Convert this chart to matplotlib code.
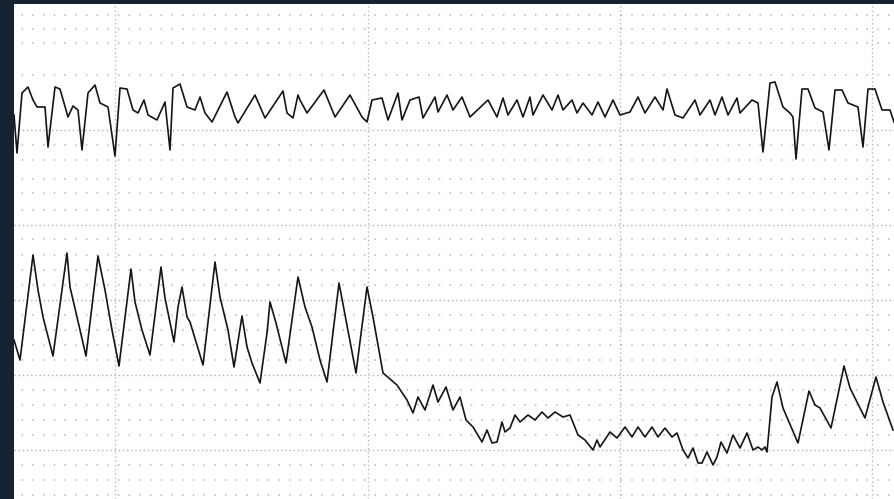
import matplotlib.pyplot as plt

# trace waypoints (x, y in strip pixels, y grows downward)
top_x = [14, 17, 22, 28, 33, 37, 45, 48, 55, 60, 68, 73, 78, 82, 88, 95, 100, 108, 115,
         120, 127, 133, 138, 144, 148, 157, 165, 170, 173, 180, 187, 195, 200, 205, 212,
         227, 235, 238, 255, 265, 283, 287, 293, 298,
         300, 307, 324, 335, 350, 362, 367, 372, 382, 388, 398, 402, 410, 419, 423, 435, 438,
         447, 453, 462, 470, 488, 497, 503, 508, 517, 523, 530, 533, 543, 552, 558, 563, 572,
         577, 583, 592, 598,
         605, 613, 620, 630, 638, 645, 655, 663, 667, 675, 683, 695, 700, 710, 715, 722, 728,
         737, 740, 752, 758, 763, 770, 775, 783, 790, 793, 796, 802, 808, 815, 823, 829,
         835, 842, 848, 858, 863, 868, 875, 882, 890, 894]
top_y = [115, 153, 93, 87, 100, 107, 107, 147, 87, 89, 117, 106, 110, 150, 93, 85, 103, 107, 156,
         88, 89, 110, 113, 100, 115, 120, 102, 150, 88, 84, 107, 110, 97, 113, 122,
         92, 117, 123, 95, 118, 91, 113, 118, 95,
         100, 113, 90, 117, 95, 117, 122, 100, 98, 120, 93, 120, 100, 97, 118, 97, 112,
         95, 110, 97, 117, 100, 117, 98, 115, 100, 117, 97, 115, 95, 110, 95, 110, 100,
         113, 103, 115, 102,
         117, 100, 115, 112, 97, 113, 97, 110, 89, 115, 118, 100, 115, 100, 115, 97, 115,
         98, 113, 100, 103, 152, 83, 82, 107, 113, 117, 159, 89, 89, 108, 112, 150,
         90, 90, 103, 107, 147, 89, 89, 110, 110, 122]

bot_x = [14, 20, 33, 38, 43, 53, 67, 70, 77, 86, 98, 105, 112, 119, 131, 135, 142, 150,
         161, 165, 174, 178, 182, 187, 190, 203, 215, 220, 228, 234, 242, 247, 252, 260,
         267, 270, 276, 286, 298, 305, 312, 320, 327, 339, 356, 367, 373, 383, 397, 407,
         413, 418, 425, 433, 438, 446, 453, 460, 466, 473, 482, 487, 492, 497, 502, 505,
         510, 515, 520, 528, 535, 542, 548, 555, 563, 570, 578, 585, 593, 597, 600,
         610, 617, 625, 632, 638, 645, 652, 658, 665, 672, 677, 683, 688, 693, 698, 702,
         707, 713, 717, 721, 727, 733, 740, 747, 753, 758, 762, 765, 767, 772, 777, 783,
         798, 809, 815, 820, 831, 844, 850, 865, 876, 883, 893]
bot_y = [340, 360, 255, 290, 317, 356, 253, 287, 317, 356, 256, 290, 330, 366, 269, 302, 330, 355,
         267, 298, 342, 307, 287, 317, 322, 365, 262, 297, 330, 367, 316, 347, 363, 383,
         333, 302, 323, 363, 277, 307, 327, 360, 382, 283, 373, 287, 317, 373, 385, 400,
         413, 397, 410, 385, 402, 387, 410, 397, 420, 427, 442, 430, 443, 442, 422, 432,
         428, 415, 422, 415, 420, 412, 418, 412, 417, 415, 435, 440, 450, 440, 447,
         432, 438, 427, 437, 427, 437, 427, 437, 428, 437, 433, 450, 458, 448, 463, 463,
         452, 465, 457, 442, 453, 435, 448, 433, 450, 447, 450, 447, 452, 397, 382, 408,
         443, 391, 405, 408, 428, 366, 388, 418, 377, 402, 430]

# grid of the paper
sparse_rows = [15, 29, 43, 75, 145, 160, 179, 193, 210, 239, 255, 270, 285, 315, 330, 345,
               360, 390, 405, 420, 435, 465, 480, 495]
dense_rows = [130, 225, 300, 375, 450]
cols = [115, 368, 620, 872]

fig = plt.figure(figsize=(8.94, 4.99), dpi=100, facecolor='#172231')
ax = fig.add_axes([14 / 894, 0, 880 / 894, 495 / 499])
ax.set_facecolor('white')
ax.set_xlim(14, 894)
ax.set_ylim(499, 4)
ax.set_xticks([])
ax.set_yticks([])
for s in ax.spines.values():
    s.set_visible(False)

for y in sparse_rows:
    ax.axhline(y, color='#b4b4b4', lw=1.1, ls=(2, (1, 6)))
for y in dense_rows:
    ax.axhline(y, color='#b0b0b0', lw=1.0, ls=(0, (1, 2)))
for x in cols:
    ax.axvline(x, color='#b8b8b8', lw=1.0, ls=(0, (1, 2)))

ax.plot(top_x, top_y, color='#151515', lw=1.2, solid_joinstyle='round')
ax.plot(bot_x, bot_y, color='#151515', lw=1.2, solid_joinstyle='round')

fig.savefig('out.png', dpi=100, facecolor=fig.get_facecolor())
